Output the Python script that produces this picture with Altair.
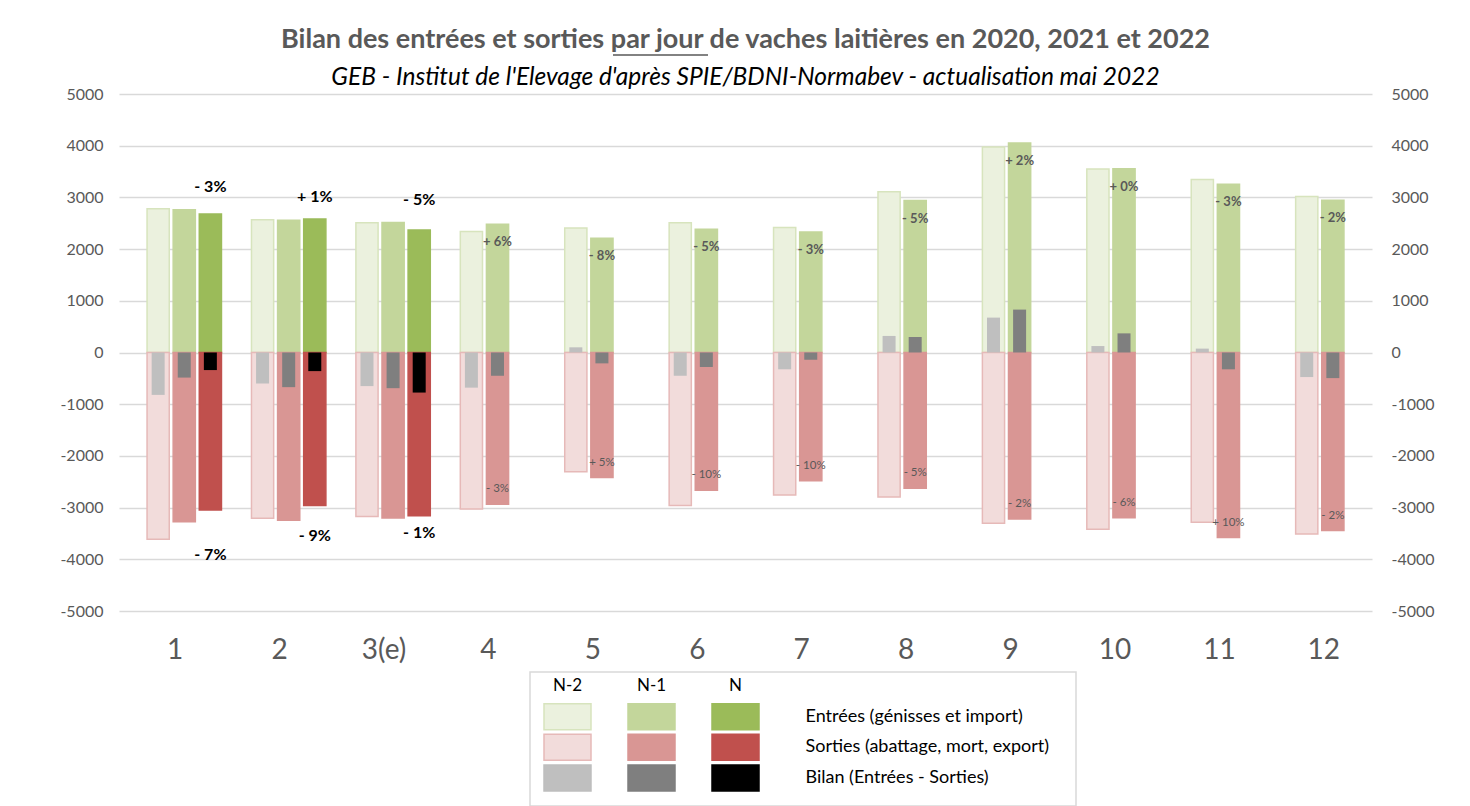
import altair as alt
import pandas as pd

months = ["1", "2", "3(e)", "4", "5", "6", "7", "8", "9", "10", "11", "12"]
years = ["N-2", "N-1", "N"]

entrees_n2 = [2780, 2570, 2510, 2340, 2410, 2510, 2420, 3110, 3975, 3550, 3345, 3015]
entrees_n1 = [2760, 2560, 2515, 2480, 2210, 2385, 2330, 2940, 4050, 3555, 3255, 2945]
entrees_n = [2680, 2580, 2370]
sorties_n2 = [-3610, -3205, -3170, -3025, -2305, -2960, -2755, -2795, -3305, -3420, -3285, -3510]
sorties_n1 = [-3275, -3245, -3200, -2935, -2420, -2665, -2480, -2625, -3220, -3195, -3580, -3445]
sorties_n = [-3045, -2960, -3160]
bilan_n2 = [-820, -600, -650, -680, 100, -450, -325, 320, 675, 125, 75, -475]
bilan_n1 = [-485, -670, -690, -450, -210, -280, -140, 300, 830, 370, -325, -495]
bilan_n = [-340, -360, -775]
var_entrees = ["- 3%", "+ 1%", "- 5%", "+ 6%", "- 8%", "- 5%", "- 3%", "- 5%", "+ 2%", "+ 0%", "- 3%", "- 2%"]
var_sorties = ["- 7%", "- 9%", "- 1%", "- 3%", "+ 5%", "- 10%", "- 10%", "- 5%", "- 2%", "- 6%", "+ 10%", "- 2%"]

legend_rows = ["Entrées (génisses et import)", "Sorties (abattage, mort, export)", "Bilan (Entrées - Sorties)"]

key_domain = ["E_N-2", "E_N-1", "E_N", "S_N-2", "S_N-1", "S_N", "B_N-2", "B_N-1", "B_N"]
fill_range = ["#EBF1DE", "#C3D69B", "#9BBB59", "#F2DCDB", "#D99694", "#C0504D", "#BFBFBF", "#7F7F7F", "#000000"]
stroke_range = ["#D7E4BD", "#C3D69B", "#9BBB59", "#E6B9B8", "#D99694", "#C0504D", "#BFBFBF", "#7F7F7F", "#000000"]

FONT = "Lato"
GREY = "#595959"

# ---------- data tables ----------
series = {
    ("E", "N-2"): entrees_n2, ("E", "N-1"): entrees_n1, ("E", "N"): entrees_n,
    ("S", "N-2"): sorties_n2, ("S", "N-1"): sorties_n1, ("S", "N"): sorties_n,
    ("B", "N-2"): bilan_n2, ("B", "N-1"): bilan_n1, ("B", "N"): bilan_n,
}
rows = []
for (kind, yr), vals in series.items():
    for i, v in enumerate(vals):
        rows.append({"month": months[i], "year": yr, "kind": kind, "value": v, "key": f"{kind}_{yr}"})
df = pd.DataFrame(rows)
df_es = df[df.kind != "B"]
df_b = df[df.kind == "B"]

lab = []
for i, m in enumerate(months):
    if i < len(entrees_n):
        top = max(entrees_n2[i], entrees_n1[i], entrees_n[i])
        bot = min(sorties_n2[i], sorties_n1[i], sorties_n[i])
        lab.append({"month": m, "year": "N", "ly": top + 430, "txt": var_entrees[i], "style": "big"})
        lab.append({"month": m, "year": "N", "ly": bot - 300, "txt": var_sorties[i], "style": "big"})
    else:
        lab.append({"month": m, "year": "N-1", "ly": entrees_n1[i] - 350, "txt": var_entrees[i], "style": "se"})
        lab.append({"month": m, "year": "N-1", "ly": sorties_n1[i] + 290, "txt": var_sorties[i], "style": "ss"})
df_lab = pd.DataFrame(lab)

# ---------- encodings ----------
x_enc = alt.X("month:N", sort=months,
              scale=alt.Scale(paddingInner=0, paddingOuter=0),
              axis=alt.Axis(title=None, labelFontSize=28, labelColor=GREY, labelFont=FONT,
                            ticks=False, domain=False, labelPadding=25, labelOffset=4,
                            labelAngle=0, grid=False))
xo_enc = alt.XOffset("year:N", scale=alt.Scale(domain=["_", "N-2", "N-1", "N"],
                                                paddingInner=0.15, paddingOuter=0.075))
yscale = alt.Scale(domain=[-5000, 5000], nice=False)
ticks = list(range(-5000, 5001, 1000))

y_left = alt.Y("value:Q", scale=yscale,
               axis=alt.Axis(values=ticks, title=None, grid=True, gridColor="#D9D9D9", gridWidth=1.3,
                             domain=False, ticks=False, labelFontSize=16, labelColor=GREY,
                             labelFont=FONT, labelPadding=16, minExtent=105, maxExtent=105,
                             labelExpr="'' + datum.value"))
y_right = alt.Y("value:Q", scale=yscale,
                axis=alt.Axis(values=ticks, title=None, grid=False, orient="right",
                              domain=False, ticks=False, labelFontSize=16, labelColor=GREY,
                              labelFont=FONT, labelPadding=19, labelExpr="'' + datum.value"))

color_enc = alt.Color("key:N", scale=alt.Scale(domain=key_domain, range=fill_range), legend=None)
stroke_enc = alt.Stroke("key:N", scale=alt.Scale(domain=key_domain, range=stroke_range), legend=None)

bars = alt.Chart(df_es).mark_bar(strokeWidth=1.5).encode(
    x=x_enc, xOffset=xo_enc, y=y_left, color=color_enc, stroke=stroke_enc)

bil = alt.Chart(df_b).mark_bar(width=13).encode(
    x=x_enc, xOffset=xo_enc, y=y_right, color=color_enc)

def text_layer(style, size, weight, color):
    return alt.Chart(df_lab[df_lab["style"] == style]).mark_text(
        font=FONT, fontSize=size, fontWeight=weight, color=color, align="center", baseline="middle"
    ).encode(x=x_enc, xOffset=xo_enc,
             y=alt.Y("ly:Q", scale=yscale, axis=None), text="txt:N")

t_big = text_layer("big", 16, "bold", "#000000")
t_se = text_layer("se", 13, "bold", GREY)
t_ss = text_layer("ss", 11.5, "normal", GREY)

# underline of "par jour" in the title (decoration)
underline = alt.Chart(pd.DataFrame({"u": [0]})).mark_rule(color=GREY, strokeWidth=1.5).encode(
    x=alt.value(494), x2=alt.value(589), y=alt.value(-39))

main = alt.layer(bars, bil, t_big, t_se, t_ss, underline).resolve_scale(y="independent").properties(
    width=1253, height=517,
    view=alt.ViewBackground(stroke="transparent"),
    title=alt.TitleParams(
        text="Bilan des entrées et sorties par jour de vaches laitières en 2020, 2021 et 2022",
        subtitle="GEB - Institut de l'Elevage d'après SPIE/BDNI-Normabev - actualisation mai 2022",
        font=FONT, fontSize=27, fontWeight="bold", color=GREY,
        subtitleFont=FONT, subtitleFontSize=24.5, subtitleFontStyle="italic", subtitleColor="#000000",
        anchor="middle", frame="group", subtitlePadding=12, offset=-36),
)

# ---------- legend ----------
leg = []
for r, kind in zip(legend_rows, ["E", "S", "B"]):
    for yr in years:
        leg.append({"col": yr, "row": r, "key": f"{kind}_{yr}"})
df_leg = pd.DataFrame(leg)
df_hdr = pd.DataFrame({"col": years, "row": ["hdr"] * 3})
df_rowlab = pd.DataFrame({"col": ["N"] * 3, "row": legend_rows})

lx = alt.X("col:N", scale=alt.Scale(type="point", domain=years, range=[37.5, 205.5], padding=0), axis=None)
ly = alt.Y("row:N", scale=alt.Scale(type="point", domain=["hdr"] + legend_rows, range=[14, 106], padding=0),
           axis=None)

sw = alt.Chart(df_leg).mark_point(shape="M-1,-0.553H1V0.553H-1Z", size=2209, filled=True,
                                  opacity=1, strokeWidth=1.5).encode(
    x=lx, y=ly, color=color_enc, stroke=stroke_enc)
hdr = alt.Chart(df_hdr).mark_text(font=FONT, fontSize=17, color="#000000").encode(
    x=lx, y=ly, text="col:N")
rlab = alt.Chart(df_rowlab).mark_text(font=FONT, fontSize=18, color="#000000", align="left", dx=70).encode(
    x=lx, y=ly, text="row:N")

legend = alt.layer(sw, hdr, rlab).properties(
    width=546, height=134, view=alt.ViewBackground(stroke="#D9D9D9", strokeWidth=1.5))

spacer = alt.Chart(pd.DataFrame({"s": [0]})).mark_point(opacity=0).encode(
    x=alt.X("s:Q", axis=None), y=alt.Y("s:Q", axis=None)).properties(
    width=389, height=10, view=alt.ViewBackground(stroke="transparent"))

chart = alt.vconcat(main, alt.hconcat(spacer, legend, spacing=20), spacing=6).properties(
    padding={"left": 5, "top": 17, "right": 5, "bottom": 5}
).configure(background="white")

chart.save("out.html", embed_options={"renderer": "svg", "actions": False})
